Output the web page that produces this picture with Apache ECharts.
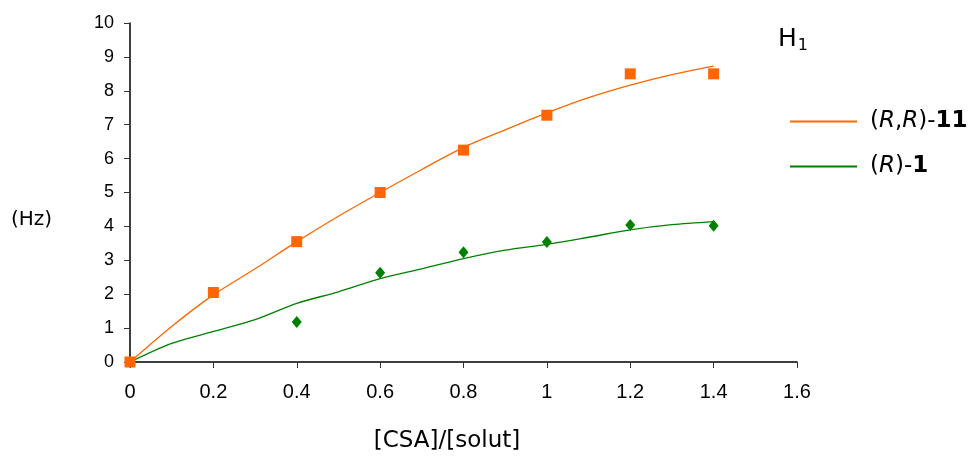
<!DOCTYPE html>
<html>
<head>
<meta charset="utf-8">
<script src="https://cdn.jsdelivr.net/npm/echarts@6/dist/echarts.min.js"></script>
<style>html,body{margin:0;padding:0;background:#fff}#c{width:978px;height:459px}</style>
</head>
<body>
<div id="c"></div>
<script>
const xPoints = [0, 0.2, 0.4, 0.6, 0.8, 1.0, 1.2, 1.4];
const rr11Points = [0, 2.05, 3.55, 5.0, 6.25, 7.28, 8.5, 8.5];
const r1X = [0, 0.4, 0.6, 0.8, 1.0, 1.2, 1.4];
const r1Points = [0, 1.18, 2.63, 3.24, 3.54, 4.04, 4.02];
const fitX = [0, 0.1, 0.2, 0.3, 0.4, 0.5, 0.6, 0.7, 0.8, 0.9, 1.0, 1.1, 1.2, 1.3, 1.4];
const rr11Fit = [0, 1.05, 1.98, 2.75, 3.55, 4.3, 5.0, 5.68, 6.33, 6.85, 7.35, 7.8, 8.17, 8.48, 8.73];
const r1Fit = [0, 0.55, 0.9, 1.25, 1.73, 2.07, 2.46, 2.75, 3.05, 3.3, 3.47, 3.68, 3.9, 4.05, 4.14];
const xTicks = [0, 0.2, 0.4, 0.6, 0.8, 1, 1.2, 1.4, 1.6];
const yTicks = [0,1,2,3,4,5,6,7,8,9,10];
const names = ['(R,R)-11', '(R)-1'];

const orange = '#ff6600', green = '#008000';
const zip = (a, b) => a.map((v, i) => [v, b[i]]);
const chart = echarts.init(document.getElementById('c'));
chart.setOption({
  animation: false,
  grid: { left: 130, right: 181, top: 23, bottom: 97 },
  xAxis: {
    type: 'value', min: xTicks[0], max: xTicks[xTicks.length - 1], interval: 0.2,
    axisLine: { lineStyle: { color: '#000', width: 1.5 } },
    axisTick: { show: true, length: 6, lineStyle: { color: '#333' } },
    splitLine: { show: false },
    axisLabel: { fontFamily: 'Liberation Sans', fontSize: 20, color: '#000', margin: 20 }
  },
  yAxis: {
    type: 'value', min: yTicks[0], max: yTicks[yTicks.length - 1], interval: 1,
    axisLine: { show: true, lineStyle: { color: '#000', width: 1.5 } },
    axisTick: { show: true, length: 6, lineStyle: { color: '#333' } },
    splitLine: { show: false },
    axisLabel: { fontFamily: 'Liberation Sans', fontSize: 18, color: '#000', margin: 16 }
  },
  legend: {
    orient: 'vertical', left: 785, top: 105, itemGap: 22,
    itemWidth: 67, itemHeight: 2, icon: 'rect',
    data: names,
    formatter: function (n) {
      return n === names[0] ? '({i|R},{i|R})-{b|11}' : '({i|R})-{b|1}';
    },
    textStyle: {
      fontFamily: 'DejaVu Sans', fontSize: 23, color: '#000', padding: [0, 0, 0, 8],
      rich: {
        i: { fontFamily: 'DejaVu Sans', fontStyle: 'italic', fontSize: 23, color: '#000' },
        b: { fontFamily: 'DejaVu Sans', fontWeight: 'bold', fontSize: 23, color: '#000' }
      }
    }
  },
  graphic: [
    { type: 'text', left: 778, top: 27, style: { text: '{h|H}{s|1}', rich: { h: { fontFamily: 'DejaVu Sans', fontSize: 25, fill: '#000' }, s: { fontFamily: 'DejaVu Sans', fontSize: 16, fill: '#000', padding: [12, 0, 0, 1] } } } },
    { type: 'text', left: 11, top: 210, style: { text: '(Hz)', fontFamily: 'DejaVu Sans', fontSize: 20, fill: '#000' } },
    { type: 'text', x: 447, y: 441, style: { text: '[CSA]/[solut]', fontFamily: 'DejaVu Sans', fontSize: 23, fill: '#000', align: 'center', verticalAlign: 'middle' } }
  ],
  series: [
    { name: names[0], type: 'line', data: zip(fitX, rr11Fit), smooth: 0.3, showSymbol: false,
      lineStyle: { color: orange, width: 1.3 }, itemStyle: { color: orange }, z: 2 },
    { name: names[1], type: 'line', data: zip(fitX, r1Fit), smooth: 0.3, showSymbol: false,
      lineStyle: { color: green, width: 1.3 }, itemStyle: { color: green }, z: 2 },
    { name: 'rr11pts', type: 'scatter', data: zip(xPoints, rr11Points), symbol: 'rect', symbolSize: 11,
      itemStyle: { color: orange, opacity: 1 }, z: 4 },
    { name: 'r1pts', type: 'scatter', data: zip(r1X, r1Points), symbol: 'diamond', symbolSize: [10, 12],
      itemStyle: { color: green, opacity: 1 }, z: 3 }
  ]
});
</script>
</body>
</html>
